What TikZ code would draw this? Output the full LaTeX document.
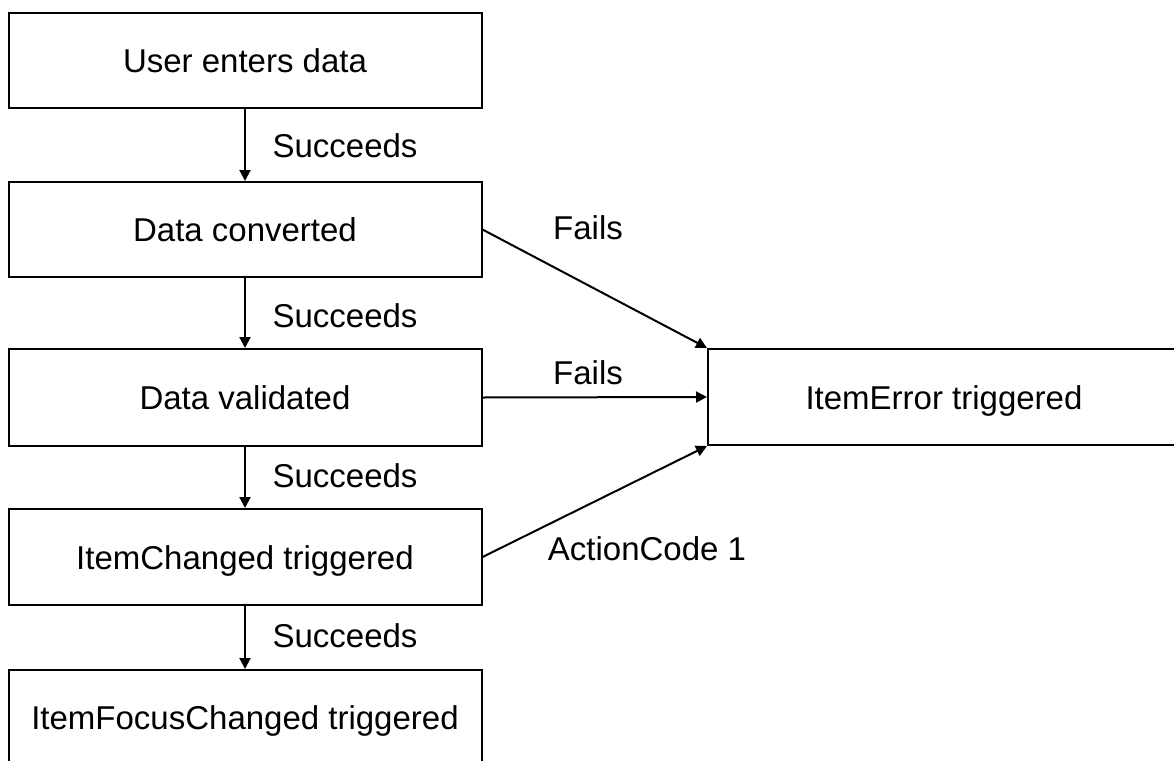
\documentclass[tikz,border=0pt]{standalone}
\usepackage{fontspec}
\setmainfont{Liberation Sans}
\usetikzlibrary{arrows.meta}
\begin{document}
\begin{tikzpicture}[x=1pt,y=-1pt,
  box/.style={draw,line width=2pt,minimum width=473pt,minimum height=95pt,inner sep=0pt,
    font=\fontsize{33}{40}\selectfont,text height=24pt,text depth=0pt},
  lbl/.style={font=\fontsize{33}{40}\selectfont,text height=24pt,text depth=0pt,inner sep=0pt},
  conn/.style={line width=2pt,-{Triangle[length=11pt,width=11pt]}}]
\useasboundingbox (0,0) rectangle (1174,760);
\node[box] (b1) at (245,60.5) {User enters data};
\node[box,minimum height=95pt] (b2) at (245,229.5) {Data converted};
\node[box,minimum height=97pt] (b3) at (245,397.5) {Data validated};
\node[box,minimum height=96pt] (b4) at (245,557) {ItemChanged triggered};
\node[box] (b5) at (245,717.5) {ItemFocusChanged triggered};
\node[box,minimum width=472pt,minimum height=96pt] (err) at (944,397) {ItemError triggered};
\draw[conn] (b1.south) -- (b2.north);
\draw[conn] (b2.south) -- (b3.north);
\draw[conn] (b3.south) -- (b4.north);
\draw[conn] (b4.south) -- (b5.north);
\draw[conn] (b2.east) -- (err.north west);
\draw[conn] (b3.east) -- (err.west);
\draw[conn] (b4.east) -- (err.south west);
\node[lbl] (s1) at (345,145) {Succeeds};
\node[lbl] (s2) at (345,315) {Succeeds};
\node[lbl] (s3) at (345,475) {Succeeds};
\node[lbl] (s4) at (345,635) {Succeeds};
\node[lbl] (f1) at (588,227) {Fails};
\node[lbl] (f2) at (588,372) {Fails};
\node[lbl] (ac) at (647,548) {ActionCode 1};
\end{tikzpicture}
\end{document}
